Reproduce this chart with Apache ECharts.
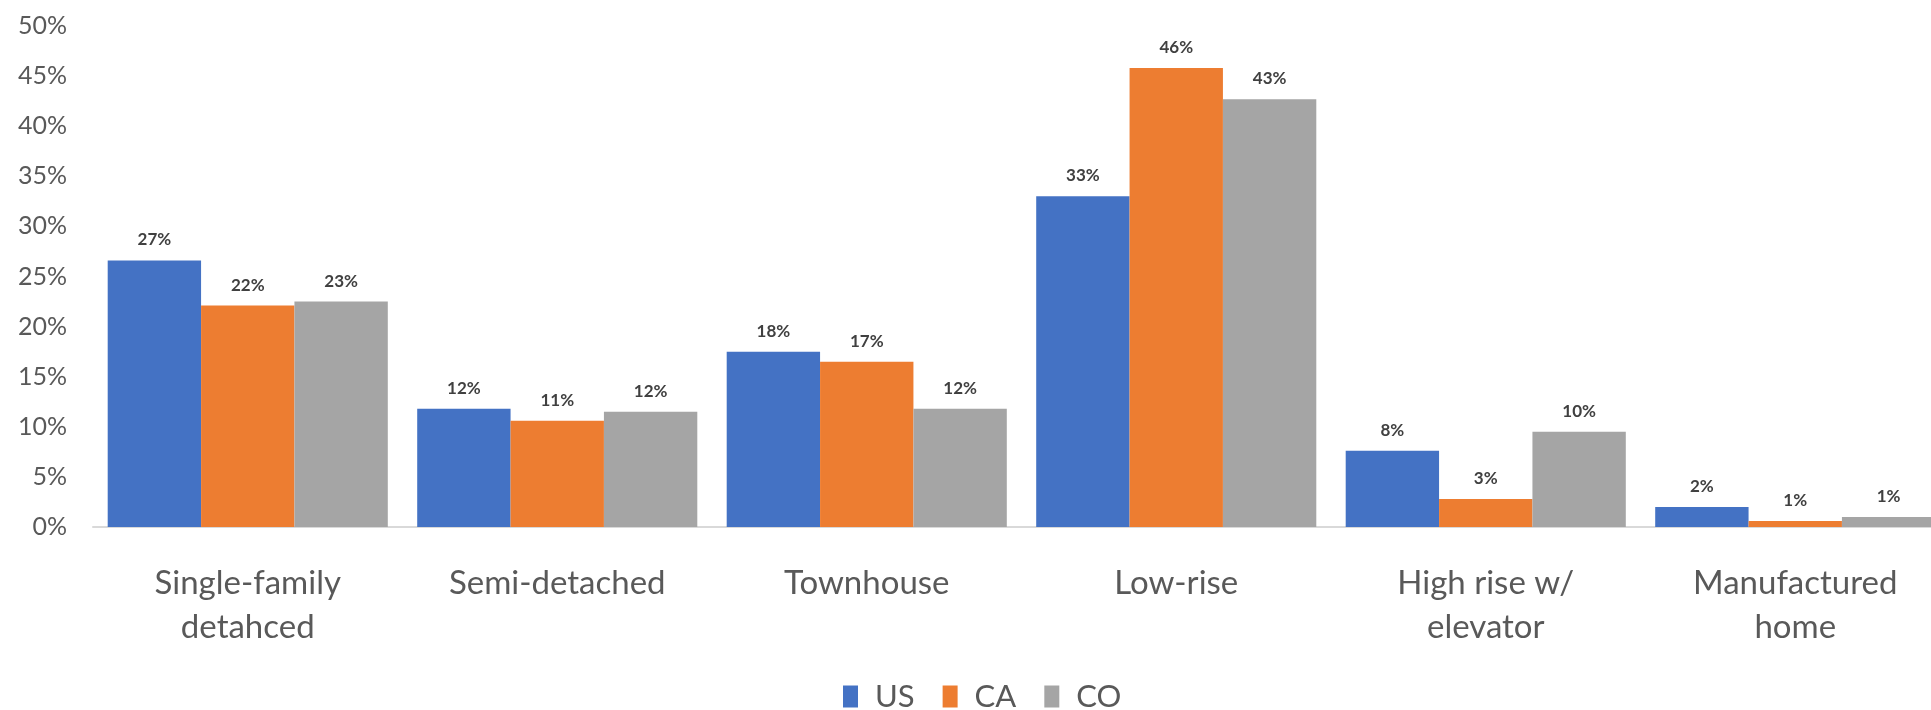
<!DOCTYPE html>
<html>
<head>
<meta charset="utf-8">
<script src="https://cdn.jsdelivr.net/npm/echarts@6/dist/echarts.min.js"></script>
<style>
html,body{margin:0;padding:0;background:#fff;}
#chart{width:1931px;height:710px;}
</style>
</head>
<body>
<div id="chart"></div>
<script>
const categories = ['Single-family\ndetahced', 'Semi-detached', 'Townhouse', 'Low-rise', 'High rise w/\nelevator', 'Manufactured\nhome'];
const seriesNames = ['US', 'CA', 'CO'];
const usValues = [26.6, 11.8, 17.5, 33.0, 7.6, 2.0];
const caValues = [22.1, 10.6, 16.5, 45.8, 2.8, 0.6];
const coValues = [22.5, 11.5, 11.8, 42.7, 9.5, 1.0];
const colors = ['#4472C4', '#ED7D31', '#A5A5A5'];
const yTicks = {min: 0, max: 50, interval: 5};

const FONT = 'Lato, "Open Sans", sans-serif';
const chart = echarts.init(document.getElementById('chart'), null, {renderer: 'canvas'});

function mkSeries(name, data, color) {
  return {
    name: name,
    type: 'bar',
    data: data,
    barGap: '0%',
    barCategoryGap: '9.5%',
    itemStyle: {color: color},
    label: {
      show: true,
      position: 'top',
      distance: 12,
      fontFamily: FONT,
      fontSize: 17,
      fontWeight: 'bold',
      color: '#404040',
      formatter: p => Math.round(p.value) + '%'
    }
  };
}

chart.setOption({
  animation: false,
  backgroundColor: '#ffffff',
  color: colors,
  grid: {left: 93, top: 26, width: 1857, height: 501, containLabel: false, outerBoundsMode: 'none'},
  legend: {
    data: seriesNames,
    left: 838,
    top: 676,
    icon: 'rect',
    itemWidth: 15,
    itemHeight: 22,
    itemGap: 28,
    textStyle: {fontFamily: FONT, fontSize: 31, color: '#595959', padding: [0, 0, 0, 12]}
  },
  xAxis: {
    type: 'category',
    data: categories,
    axisTick: {show: false},
    axisLine: {lineStyle: {color: '#d9d9d9', width: 2}},
    axisLabel: {
      interval: 0,
      margin: 34,
      fontFamily: FONT,
      fontSize: 33,
      lineHeight: 44,
      color: '#595959'
    }
  },
  yAxis: {
    type: 'value',
    min: yTicks.min,
    max: yTicks.max,
    interval: yTicks.interval,
    splitLine: {show: false},
    axisLine: {show: false},
    axisTick: {show: false},
    axisLabel: {
      formatter: '{value}%',
      margin: 26,
      fontFamily: FONT,
      fontSize: 25,
      color: '#595959'
    }
  },
  series: [
    mkSeries(seriesNames[0], usValues, colors[0]),
    mkSeries(seriesNames[1], caValues, colors[1]),
    mkSeries(seriesNames[2], coValues, colors[2])
  ]
});
</script>
</body>
</html>
